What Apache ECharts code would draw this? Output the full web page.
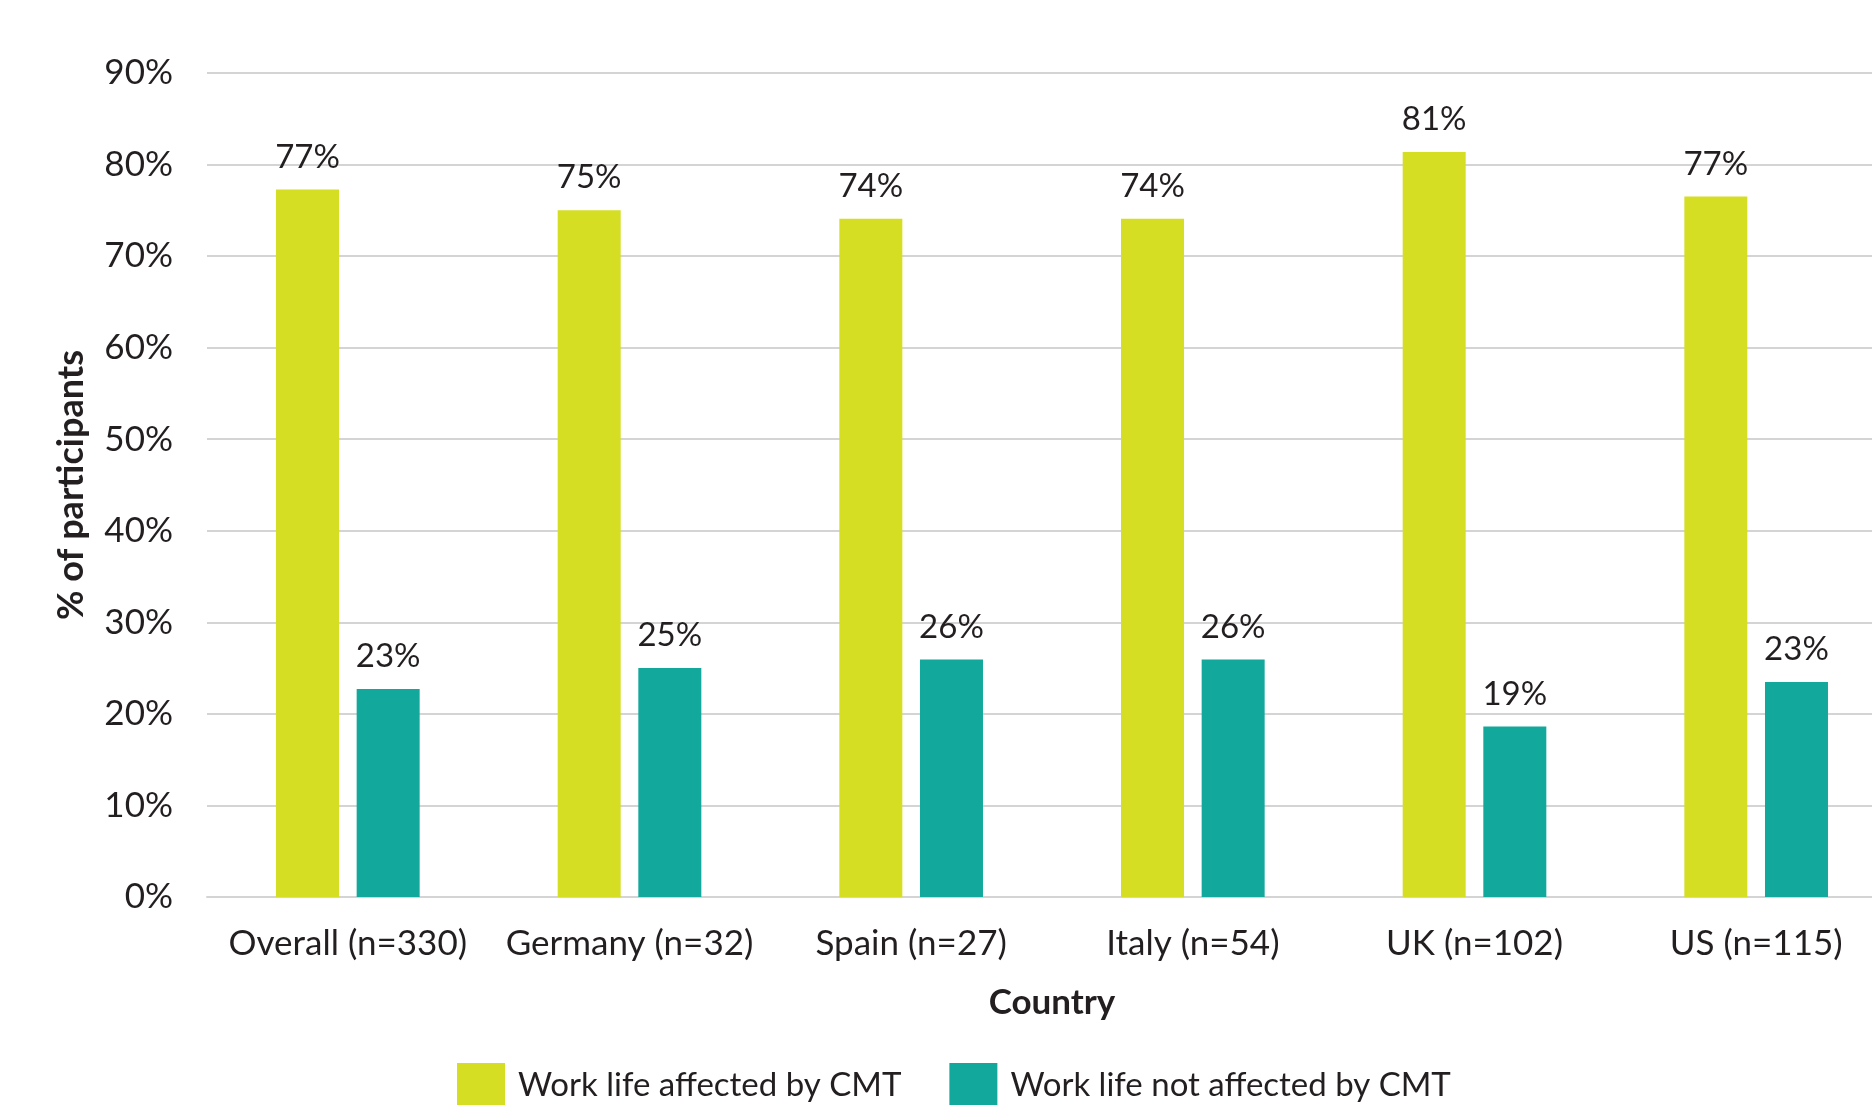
<!DOCTYPE html>
<html>
<head>
<meta charset="utf-8">
<title>Work life affected by CMT, by country</title>
<script src="https://cdn.jsdelivr.net/npm/echarts@6/dist/echarts.min.js"></script>
<style>
  html, body { margin: 0; padding: 0; background: #ffffff; }
  #chart { width: 1872px; height: 1105px; }
</style>
</head>
<body>
<div id="chart"></div>
<script>
// Survey groups (sample size in brackets)
const categories = ['Overall (n=330)', 'Germany (n=32)', 'Spain (n=27)', 'Italy (n=54)', 'UK (n=102)', 'US (n=115)'];

// Share of participants, in percent
const affected    = [77.27, 75.00, 74.07, 74.07, 81.37, 76.52];
const notAffected = [22.73, 25.00, 25.93, 25.93, 18.63, 23.48];

const seriesNames = ['Work life affected by CMT', 'Work life not affected by CMT'];
const yTicks = { min: 0, max: 90, step: 10 };

const FONT = 'Lato, "Open Sans", sans-serif';
const TEXT = '#231f20';
const YELLOW = '#d5de22';
const TEAL = '#13a89c';
const GRID = '#d4d4d4';

const chart = echarts.init(document.getElementById('chart'), null, { renderer: 'canvas' });

const valueLabel = {
  show: true,
  position: 'top',
  distance: 16,
  color: TEXT,
  fontFamily: FONT,
  fontSize: 33,
  formatter: p => Math.round(p.value) + '%'
};

chart.setOption({
  backgroundColor: '#ffffff',
  animation: false,
  textStyle: { fontFamily: FONT, color: TEXT },
  grid: { left: 207, top: 73, bottom: 208, width: 1690, containLabel: false, outerBoundsMode: 'none' },
  legend: {
    data: seriesNames,
    left: 452,
    top: 1058,
    itemWidth: 48,
    itemHeight: 45,
    itemGap: 48,
    icon: 'rect',
    textStyle: { fontFamily: FONT, fontSize: 33, color: TEXT, padding: [0, 0, 0, 8] }
  },
  xAxis: {
    type: 'category',
    data: categories,
    name: 'Country',
    nameLocation: 'middle',
    nameGap: 88,
    nameTextStyle: { fontFamily: FONT, fontSize: 35, fontWeight: 'bold', color: TEXT },
    axisTick: { show: false },
    axisLine: { lineStyle: { color: GRID, width: 2 } },
    axisLabel: { color: TEXT, fontFamily: FONT, fontSize: 35, margin: 29, interval: 0 }
  },
  yAxis: {
    type: 'value',
    min: yTicks.min,
    max: yTicks.max,
    interval: yTicks.step,
    name: '% of participants',
    nameLocation: 'middle',
    nameGap: 118,
    nameTextStyle: { fontFamily: FONT, fontSize: 36, fontWeight: 'bold', color: TEXT },
    axisLine: { show: false },
    axisTick: { show: false },
    splitLine: { lineStyle: { color: GRID, width: 2 } },
    axisLabel: { color: TEXT, fontFamily: FONT, fontSize: 35, margin: 34, formatter: '{value}%' }
  },
  series: [
    {
      name: seriesNames[0],
      type: 'bar',
      data: affected,
      barWidth: 63,
      barGap: '28%',
      itemStyle: { color: YELLOW },
      label: valueLabel
    },
    {
      name: seriesNames[1],
      type: 'bar',
      data: notAffected,
      barWidth: 63,
      itemStyle: { color: TEAL },
      label: valueLabel
    }
  ]
});
</script>
</body>
</html>
